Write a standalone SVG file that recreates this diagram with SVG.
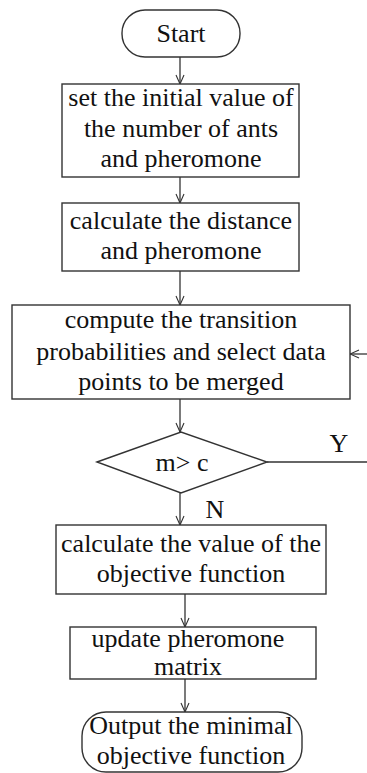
<svg xmlns="http://www.w3.org/2000/svg" width="367" height="773" viewBox="0 0 367 773">
<defs>
<marker id="arr" viewBox="0 0 10 10" refX="10" refY="5" markerWidth="10" markerHeight="10" markerUnits="userSpaceOnUse" orient="auto">
<path d="M1,1 L10,5 L1,9" fill="none" stroke="#333" stroke-width="1.1"/>
</marker>
<style>
.s{fill:#fff;stroke:#333;stroke-width:1.4}
.t{font-family:"Liberation Serif","Times New Roman",serif;font-size:26px;fill:#111;text-anchor:middle}
.c{fill:none;stroke:#333;stroke-width:1.3}
</style>
</defs>
<rect width="367" height="773" fill="#fff"/>
<g id="connectors">
<line class="c" x1="180" y1="57" x2="180" y2="84" marker-end="url(#arr)"/>
<line class="c" x1="180" y1="177" x2="180" y2="203" marker-end="url(#arr)"/>
<line class="c" x1="180" y1="271" x2="180" y2="305" marker-end="url(#arr)"/>
<line class="c" x1="180" y1="399" x2="180" y2="432" marker-end="url(#arr)"/>
<line class="c" x1="180" y1="493" x2="180" y2="525" marker-end="url(#arr)"/>
<line class="c" x1="185" y1="594" x2="185" y2="627" marker-end="url(#arr)"/>
<line class="c" x1="185" y1="679" x2="185" y2="712" marker-end="url(#arr)"/>
<line class="c" x1="267" y1="462" x2="367" y2="462"/>
<line class="c" x1="367" y1="354" x2="350" y2="354" marker-end="url(#arr)"/>
<text class="t" x="339" y="452">Y</text>
<text class="t" x="215" y="518">N</text>
</g>
<g id="start">
<rect class="s" x="122" y="10" width="118" height="47" rx="23"/>
<text class="t" x="181" y="42">Start</text>
</g>
<g id="init">
<rect class="s" x="62" y="84" width="237" height="93"/>
<text class="t" x="181" y="106">set the initial value of</text>
<text class="t" x="181" y="137">the number of ants</text>
<text class="t" x="181" y="167">and pheromone</text>
</g>
<g id="distance">
<rect class="s" x="62" y="203" width="237" height="68"/>
<text class="t" x="181" y="229">calculate the distance</text>
<text class="t" x="181" y="259">and pheromone</text>
</g>
<g id="transition">
<rect class="s" x="12" y="305" width="338" height="94"/>
<text class="t" x="181" y="328">compute the transition</text>
<text class="t" x="181" y="360">probabilities and  select data</text>
<text class="t" x="181" y="390">points to be merged</text>
</g>
<g id="decision">
<polygon class="s" points="97,462 181,432 267,462 181,493"/>
<text class="t" x="182" y="471">m&gt; c</text>
</g>
<g id="objective">
<rect class="s" x="56" y="525" width="270" height="69"/>
<text class="t" x="191" y="552">calculate the value of the</text>
<text class="t" x="191" y="582">objective function</text>
</g>
<g id="update">
<rect class="s" x="70" y="627" width="246" height="52"/>
<text class="t" x="188" y="647">update pheromone</text>
<text class="t" x="188" y="675">matrix</text>
</g>
<g id="output">
<rect class="s" x="82" y="712" width="220" height="60" rx="24"/>
<text class="t" x="191" y="734">Output the minimal</text>
<text class="t" x="191" y="764">objective function</text>
</g>
</svg>
